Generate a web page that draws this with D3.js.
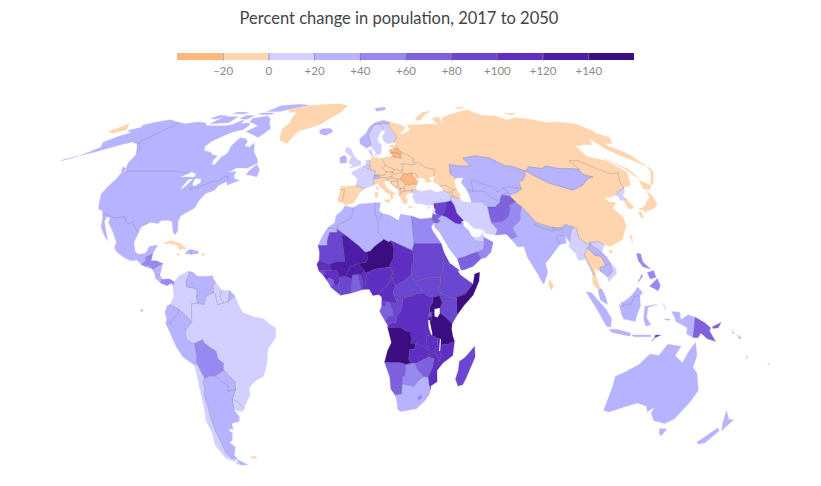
<!DOCTYPE html>
<html>
<head>
<meta charset="utf-8">
<script src="https://cdn.jsdelivr.net/npm/d3@7"></script>
<style>
body { margin: 0; background: #fff; }
svg { display: block; }
.title { font-family: Lato, sans-serif; font-size: 16.5px; fill: #444; }
.legend text { font-family: Lato, sans-serif; font-size: 11.5px; fill: #8a8a8a; }
</style>
</head>
<body>
<svg id="map" width="821" height="486"></svg>
<script>
const titleText = 'Percent change in population, 2017 to 2050';
const legendTicks = [-20, 0, 20, 40, 60, 80, 100, 120, 140];
const legendDomain = [-40, 160];
const binColors = ['#ffb77e', '#ffd5af', '#d3d0ff', '#b7b3ff', '#9889f2', '#7d61de', '#6a46d1', '#5e2fc2', '#4e1da8', '#3b0d80'];

const countries = [
  'Canada', 'USA', 'Mexico', 'Guatemala', 'Belize', 'Honduras', 'El Salvador', 'Nicaragua', 'Costa Rica', 'Panama',
  'Cuba', 'Haiti', 'Dominican Rep.', 'Jamaica', 'Puerto Rico', 'Trinidad', 'Colombia', 'Venezuela', 'Guyana', 'Suriname',
  'French Guiana', 'Ecuador', 'Peru', 'Bolivia', 'Brazil', 'Uruguay', 'Paraguay', 'Argentina', 'Chile', 'Falklands',
  'Greenland', 'Iceland', 'UK', 'Ireland', 'Norway', 'Sweden', 'Finland', 'Denmark', 'Spain', 'Portugal',
  'France', 'Belgium', 'Netherlands', 'Germany', 'Switzerland', 'Italy', 'Austria', 'Czechia', 'Slovakia', 'Hungary',
  'Poland', 'Estonia', 'Latvia', 'Lithuania', 'Belarus', 'Ukraine', 'Moldova', 'Romania', 'Bulgaria', 'Serbia',
  'Croatia', 'Bosnia', 'Slovenia', 'Montenegro', 'Albania', 'Macedonia', 'Greece', 'Turkey', 'Cyprus', 'Georgia',
  'Armenia', 'Azerbaijan', 'Russia', 'Kazakhstan', 'Uzbekistan', 'Turkmenistan', 'Kyrgyzstan', 'Tajikistan', 'Afghanistan', 'Pakistan',
  'India', 'Nepal', 'Bhutan', 'Bangladesh', 'Sri Lanka', 'China', 'Mongolia', 'North Korea', 'South Korea', 'Japan',
  'Myanmar', 'Thailand', 'Laos', 'Vietnam', 'Cambodia', 'Malaysia', 'Indonesia', 'Timor-Leste', 'Philippines', 'Papua New Guinea',
  'Solomon Is.', 'Vanuatu', 'Fiji', 'Australia', 'New Zealand', 'Iran', 'Iraq', 'Syria', 'Lebanon', 'Jordan',
  'Israel', 'Saudi Arabia', 'Yemen', 'Oman', 'UAE', 'Kuwait', 'Morocco', 'Western Sahara', 'Mauritania', 'Senegal',
  'Guinea-Bissau', 'Guinea', 'Sierra Leone', 'Liberia', "Cote d'Ivoire", 'Ghana', 'Togo', 'Benin', 'Burkina Faso', 'Mali',
  'Algeria', 'Tunisia', 'Libya', 'Egypt', 'Niger', 'Nigeria', 'Chad', 'Cameroon', 'CAR', 'Sudan',
  'South Sudan', 'Eritrea', 'Ethiopia', 'Somalia', 'Kenya', 'Uganda', 'Rwanda', 'Burundi', 'Tanzania', 'DR Congo',
  'Congo', 'Gabon', 'Eq. Guinea', 'Angola', 'Zambia', 'Malawi', 'Mozambique', 'Zimbabwe', 'Botswana', 'Namibia',
  'South Africa', 'Lesotho', 'Madagascar'
];
const percentChange = [
  27, 23, 31, 55, 50, 48, 22, 29, 24, 41,
  -8, 24, 23, -2, -14, -5, 15, 28, 6, 12,
  38, 34, 30, 46, 14, 8, 33, 27, 16, -3,
  -2, 22, 14, 21, 28, 18, 5, 9, -4, -12,
  13, 12, 5, -7, 21, -6, -2, -6, -7, -11,
  -15, -12, -23, -24, -13, -18, -16, -21, -19, -16,
  -15, -16, -4, -5, -10, -4, -14, 19, 15, -4,
  -5, -3, -8, 32, 28, 30, 36, 62, 72, 55,
  25, 25, 22, 24, -5, -3, 33, 9, -4, -17,
  16, -3, 30, 15, 33, 35, 24, 110, 45, 70,
  35, 35, 15, 35, 28, 19, 105, 88, 8, 65,
  60, 34, 70, 50, 12, 38, 30, 38, 90, 105,
  90, 105, 70, 85, 95, 75, 85, 105, 125, 125,
  30, 21, 32, 50, 165, 105, 110, 100, 85, 95,
  85, 85, 82, 160, 90, 150, 78, 130, 155, 115,
  95, 70, 85, 145, 115, 105, 110, 65, 50, 70,
  28, 45, 90
];

const outlines = {
  'Canada': [
    [[-141,69.6],[-135,69],[-128,70],[-120,69.5],[-115,68],[-108,68],[-100,68],[-96,68.5],[-94,71.5],[-90,69],[-85,69.5],[-81.5,68.5],[-82,66],[-87,65],[-90,63.5],[-94,61],[-94.5,58.8],[-92.5,57],[-88,56.5],[-85,55.3],[-82,55],[-82,53],[-80.5,51.3],[-79,51.5],[-79,54.5],[-77,56],[-78,59],[-77.5,62.4],[-73,62],[-70,61],[-69.5,59],[-66,58.5],[-64.5,60.3],[-61.5,56.5],[-57,53.5],[-56,52],[-60,50.2],[-66,50.2],[-69,48.5],[-65,49],[-65,47.5],[-64,46],[-61,45.5],[-66,43.6],[-67,45],[-67.8,47],[-70,46.5],[-71.5,45],[-74.8,45],[-76.5,44],[-79,43.3],[-79,42.8],[-83,42],[-82.5,45.3],[-84.5,46.5],[-88.5,48.2],[-92,48.4],[-95,49],[-100,49],[-106,49],[-112,49],[-118,49],[-123,49],[-125,50],[-128,52],[-130,54.5],[-131,56],[-134,58],[-137,59],[-139,60],[-141,60.3],[-141,65]],
    [[-80,73.5],[-72,71.5],[-67,69],[-62,66.5],[-65,62.5],[-72,64],[-78,65],[-74,68],[-85,70],[-89,72]],
    [[-117,73],[-105,73],[-101,69.5],[-115,69]],
    [[-90,76.5],[-78,76.5],[-72,79],[-62,82],[-75,83],[-92,81.5]],
    [[-125,74],[-116,73.5],[-120,71.5],[-125,72]],
    [[-92,75.5],[-80,75.5],[-80,74.5],[-92,74.5]],
    [[-117,76],[-106,76],[-106,74.8],[-117,75]],
    [[-100,73.8],[-93,73.8],[-92,71.5],[-100,72]],
    [[-59,47.7],[-53,46.8],[-53,49.5],[-56,51.5],[-58,49.5]],
    [[-128,50.7],[-125,50],[-123.5,48.5],[-125.5,48.9]]
  ],
  'USA': [
    [[-123,49],[-118,49],[-112,49],[-106,49],[-100,49],[-95,49],[-92,48.4],[-88.5,48.2],[-84.5,46.5],[-82.5,45.3],[-83,42],[-79,42.8],[-79,43.3],[-76.5,44],[-74.8,45],[-71.5,45],[-70,46.5],[-67.8,47],[-67,45],[-70,43.5],[-70.5,41.7],[-74,40.5],[-75.5,37.5],[-76,35],[-78,33.8],[-81,32],[-81.3,30],[-80,26.8],[-80.5,25.2],[-81.8,26],[-82.8,28],[-84,30],[-86,30.4],[-89,30.3],[-90,29.2],[-93.5,29.7],[-97,28],[-97.2,25.9],[-99.5,27.5],[-101.5,29.8],[-103,29],[-104.7,30],[-106.5,31.8],[-108.2,31.4],[-111,31.3],[-114.8,32.5],[-117.1,32.5],[-118.5,34],[-120.6,34.5],[-122.5,37.5],[-124.3,40.4],[-124.5,43],[-124,46.3],[-124.7,48.4]],
    [[-141,69.6],[-141,65],[-141,60.3],[-139,60],[-137,59],[-134,58],[-131,56],[-130,55],[-133,56.5],[-136,58],[-140,59.7],[-146,60.7],[-150,59.5],[-153,58.5],[-158,56.5],[-163,55],[-160,58.5],[-165,60.5],[-164,63],[-161,64.5],[-168,65.6],[-163,67],[-166.5,68.3],[-161,70.3],[-156.5,71.3],[-150,70.5]],
    [[-163.5,54.9],[-166,54],[-168,53.3],[-168,53],[-165.5,53.8]]
  ],
  'Mexico': [[[-117.1,32.5],[-114.8,32.5],[-111,31.3],[-108.2,31.4],[-106.5,31.8],[-104.7,30],[-103,29],[-101.5,29.8],[-99.5,27.5],[-97.2,25.9],[-97.8,22.5],[-96,19],[-94.5,18.2],[-91.5,18.5],[-90.5,21],[-87,21.5],[-88.3,18.4],[-89.2,17.9],[-91,17.2],[-90.5,16],[-92.2,14.5],[-94.5,16.2],[-97,15.9],[-100,17],[-104,19],[-105.5,20.5],[-105.5,22.5],[-109,26.5],[-112.5,29.5],[-113,31.3],[-114.7,31.7],[-114.7,30],[-112,26.5],[-109.5,23],[-112,25],[-115,28],[-116,30.5]]],
  'Guatemala': [[[-92.2,14.5],[-90.5,16],[-91,17.2],[-89.2,17.9],[-88.9,15.9],[-89.3,14.4],[-90.1,13.8]]],
  'Belize': [[[-89.2,17.9],[-88.3,18.4],[-88.3,16.2],[-88.9,15.9]]],
  'Honduras': [[[-89.3,14.4],[-88.9,15.9],[-86,15.9],[-83.2,15],[-85,14],[-87.3,13],[-87.8,13.4]]],
  'El Salvador': [[[-90.1,13.8],[-89.3,14.4],[-87.8,13.4],[-88.5,13.2]]],
  'Nicaragua': [[[-87.3,13],[-85,14],[-83.2,15],[-83.7,11],[-85.7,11.1]]],
  'Costa Rica': [[[-85.7,11.1],[-83.7,11],[-82.6,9.5],[-83,8.3],[-85.6,9.9]]],
  'Panama': [[[-83,8.3],[-82.6,9.5],[-79.5,9.6],[-77.4,8.7],[-77.8,7.5],[-78.5,8.3],[-80.4,7.4],[-81.5,7.8]]],
  'Cuba': [[[-85,21.9],[-82,23.1],[-77,22],[-74.2,20.2],[-77.5,19.9],[-78.5,21.5],[-82,22]]],
  'Haiti': [[[-74.4,18.4],[-73,19.9],[-71.7,19.8],[-71.7,18.2]]],
  'Dominican Rep.': [[[-71.7,19.8],[-69,19.4],[-68.4,18.5],[-71.7,18.2]]],
  'Jamaica': [[[-78.3,18.4],[-76.3,18.2],[-77,17.7]]],
  'Puerto Rico': [[[-67.2,18.5],[-65.6,18.4],[-66,17.9],[-67.2,18]]],
  'Trinidad': [[[-61.8,10.8],[-60.9,10.8],[-61,10.1],[-61.9,10.1]]],
  'Colombia': [[[-77.4,8.7],[-75.5,10.8],[-72,12.2],[-71.3,11.5],[-72.5,9],[-72,7],[-70,6.9],[-67.5,6.2],[-67.8,3.8],[-67.3,1.8],[-69.8,1.7],[-69.9,-0.5],[-70,-4.2],[-72,-2.4],[-75.2,-0.1],[-78.8,1.4],[-77.3,3.9],[-77.8,7.5]]],
  'Venezuela': [[[-72,12.2],[-70,12],[-68,10.6],[-64,10.4],[-62,10.7],[-60,8.5],[-61,7.5],[-60.7,5.2],[-64,4],[-64.5,1.4],[-67.3,1.8],[-67.8,3.8],[-67.5,6.2],[-70,6.9],[-72,7],[-72.5,9],[-71.3,11.5]]],
  'Guyana': [[[-60,8.5],[-57.2,6],[-58,4],[-56.5,1.9],[-59,1.3],[-60,5],[-60.7,5.2],[-61,7.5]]],
  'Suriname': [[[-57.2,6],[-54,5.9],[-54.5,2.3],[-56.5,1.9],[-58,4]]],
  'French Guiana': [[[-54,5.9],[-51.7,4.2],[-54.5,2.3]]],
  'Ecuador': [
    [[-80,1],[-78.8,1.4],[-75.2,-0.1],[-75.5,-1.5],[-78.3,-3.4],[-79,-5],[-80.3,-3.4],[-81,-1]],
    [[-91.5,-0.2],[-90.2,-0.2],[-90.5,-1]]
  ],
  'Peru': [[[-81,-4.5],[-80.3,-3.4],[-79,-5],[-78.3,-3.4],[-75.5,-1.5],[-75.2,-0.1],[-72,-2.4],[-70,-4.2],[-73,-7],[-73,-9.5],[-70.6,-11],[-69.5,-11],[-69,-15],[-69.4,-17.5],[-70.4,-18.3],[-75,-15.5],[-77.5,-12],[-79.5,-7.5]]],
  'Bolivia': [[[-69.5,-11],[-66,-9.8],[-65.3,-11],[-60.5,-13.7],[-60,-16.2],[-57.8,-17.5],[-58,-20],[-62.6,-22],[-65,-22],[-67.2,-22.8],[-68.5,-19.5],[-69.4,-17.5],[-69,-15]]],
  'Brazil': [[[-60.7,5.2],[-60,5],[-59,1.3],[-56.5,1.9],[-54.5,2.3],[-51.7,4.2],[-50,1],[-48.5,-1],[-44,-2.5],[-40,-3],[-37,-5],[-35,-6],[-35,-9],[-38.5,-13],[-39,-17.5],[-41,-22],[-45,-23.7],[-48.5,-26],[-48.8,-28.6],[-52,-32],[-53.4,-33.7],[-55.7,-30.9],[-57.6,-30.2],[-54.6,-26.5],[-54.6,-25.5],[-54.2,-24],[-55.7,-22.4],[-58,-20],[-57.8,-17.5],[-60,-16.2],[-60.5,-13.7],[-65.3,-11],[-66,-9.8],[-69.5,-11],[-70.6,-11],[-73,-9.5],[-73,-7],[-70,-4.2],[-69.9,-0.5],[-69.8,1.7],[-67.3,1.8],[-64.5,1.4],[-64,4]]],
  'Uruguay': [[[-57.6,-30.2],[-55.7,-30.9],[-53.4,-33.7],[-55,-35],[-58.4,-34]]],
  'Paraguay': [[[-58,-20],[-55.7,-22.4],[-54.2,-24],[-54.6,-25.5],[-54.6,-26.5],[-58.6,-27.3],[-57.7,-25.3],[-60,-24],[-62.6,-22]]],
  'Argentina': [
    [[-67.2,-22.8],[-65,-22],[-62.6,-22],[-60,-24],[-57.7,-25.3],[-58.6,-27.3],[-54.6,-26.5],[-57.6,-30.2],[-58.4,-34],[-57,-36.5],[-58,-38.3],[-62,-39],[-62.5,-41],[-65,-41],[-63.8,-42.5],[-65.5,-45],[-67.5,-46],[-65.8,-47.5],[-69,-51],[-68.5,-52.3],[-71.5,-52],[-72.5,-50],[-71.8,-46],[-71.5,-42],[-71,-38],[-70,-33],[-69.8,-29],[-68.5,-26],[-68.5,-24]],
    [[-68.6,-52.7],[-65.2,-54.8],[-68.6,-54.9]]
  ],
  'Chile': [
    [[-69.4,-17.5],[-68.5,-19.5],[-67.2,-22.8],[-68.5,-24],[-68.5,-26],[-69.8,-29],[-70,-33],[-71,-38],[-71.5,-42],[-71.8,-46],[-72.5,-50],[-71.5,-52],[-68.5,-52.3],[-71,-53.5],[-74.5,-52],[-75.5,-47],[-73.5,-42],[-73.7,-38],[-71.6,-32],[-71,-28],[-70.4,-23],[-70.4,-18.3]],
    [[-68.6,-52.7],[-68.6,-54.9],[-71,-54.5],[-70,-53.5]]
  ],
  'Falklands': [[[-61,-51.4],[-58,-51.4],[-58.5,-52.2],[-60.5,-52.2]]],
  'Greenland': [[[-73,78.2],[-60,82],[-32,83.6],[-20,81.8],[-18,76],[-22,72],[-26,68.5],[-40,65],[-43,60],[-49,61.5],[-53,66],[-51,69.5],[-55,72],[-60,76],[-68,76]]],
  'Iceland': [[[-24,65.5],[-22,66.4],[-16,66.5],[-13.5,65],[-18.5,63.4],[-22.5,64]]],
  'UK': [
    [[-5.5,50.1],[1.3,51.2],[1.7,52.8],[0,53.5],[-1.5,55],[-2,57.7],[-4,58.6],[-5.2,58],[-6,56.5],[-3,54.5],[-4.5,53.2],[-5,51.7],[-3,51.4]],
    [[-7.2,55.1],[-5.6,54.7],[-6.2,54.1],[-7.5,54.3]]
  ],
  'Ireland': [[[-10,52],[-6.3,52.2],[-6,53.5],[-6.2,54.1],[-7.5,54.3],[-7.2,55.1],[-10,54.2]]],
  'Norway': [
    [[5,60],[5.3,62],[10,64],[14,67.5],[18,69.5],[25,71],[31,69.8],[29,69],[25.7,69],[20.5,69],[16,67.5],[14,65],[12,63.5],[12.2,60],[11,59],[8,58]],
    [[12,79],[22,80],[24,78],[16,76.7]]
  ],
  'Sweden': [[[11,59],[12.2,60],[12,63.5],[14,65],[16,67.5],[20.5,69],[23.6,67.8],[24,65.8],[21.5,65],[17.5,62],[17.5,60.5],[18.7,59.8],[16.5,57],[14.3,55.5],[12.9,55.5]]],
  'Finland': [[[20.5,69],[25.7,69],[29,69],[29.5,66.5],[31.5,62.9],[27.8,60.5],[23,59.9],[21,61],[21.5,63],[25,65],[24,65.8],[23.6,67.8]]],
  'Denmark': [
    [[8.7,54.9],[8.2,57],[10.6,57.7],[10,55]],
    [[11,55.7],[12.6,56],[12,54.8]]
  ],
  'Spain': [[[-9.2,43.1],[-1.8,43.4],[3.2,42.4],[0.5,40.5],[-0.3,38.8],[-2,36.8],[-5.5,36],[-7.4,37.2],[-7,38.5],[-6.9,41.9],[-8.9,41.9]]],
  'Portugal': [[[-8.9,41.9],[-6.9,41.9],[-7,38.5],[-7.4,37.2],[-9,37],[-9.5,38.8]]],
  'France': [
    [[-1.8,43.4],[3.2,42.4],[7.4,43.7],[7,46],[7.6,47.6],[8.2,49],[6,49.5],[4.2,50],[2.5,51],[-1.6,49.5],[-4.7,48.4],[-1.2,46]],
    [[8.6,42.9],[9.5,42.9],[9.3,41.5]]
  ],
  'Belgium': [[[2.5,51],[4.2,51.4],[6,50.7],[6,49.5],[4.2,50]]],
  'Netherlands': [[[4.2,51.4],[4.9,53.3],[7.1,53.3],[6,50.7]]],
  'Germany': [[[6,50.7],[7.1,53.3],[8.7,54],[8.7,54.9],[11,54.4],[14.2,53.9],[14.7,51],[12.2,50.3],[13.8,48.6],[13,47.5],[10,47.4],[7.6,47.6],[8.2,49],[6,49.5]]],
  'Switzerland': [[[7,46],[7.6,47.6],[10,47.4],[10.4,46.5],[8.5,46]]],
  'Italy': [
    [[7.4,43.7],[8.8,44.4],[10.5,42.9],[13,41.2],[15.7,40],[16,38],[17,39],[16.7,40.2],[18.4,40.2],[16,41.5],[14,42.5],[12.4,44.5],[13.6,45.5],[13.7,45.7],[13.7,46.5],[10.4,46.5],[8.5,46],[7,46]],
    [[12.5,38],[15.6,38.2],[15,36.7]],
    [[8.2,41],[9.7,41],[9.5,39],[8.5,39]]
  ],
  'Austria': [[[10,47.4],[13,47.5],[13.8,48.6],[17,48.7],[16.5,46.9],[13.7,46.5],[10.4,46.5]]],
  'Czechia': [[[12.2,50.3],[14.7,51],[18.8,49.6],[17,48.7],[13.8,48.6]]],
  'Slovakia': [[[17,48.7],[18.8,49.6],[22.5,49.1],[22,48.4],[18,47.8]]],
  'Hungary': [[[16.5,46.9],[17,48.7],[18,47.8],[22,48.4],[22.9,48],[21,46.2],[20.3,46],[18.8,45.9],[16.6,46.4]]],
  'Poland': [[[14.2,53.9],[18.5,54.8],[19.8,54.5],[23,54.4],[24,52],[24,50.6],[22.5,49.1],[18.8,49.6],[14.7,51]]],
  'Estonia': [[[23.5,59.2],[28,59.4],[27.4,57.6],[24.5,58],[23.5,58.7]]],
  'Latvia': [[[21,56.1],[21,57.1],[22.5,57.7],[24.4,57.3],[24.5,58],[27.4,57.6],[28.2,56.1],[26.5,55.7],[24,56.3]]],
  'Lithuania': [[[21,56.1],[24,56.3],[26.5,55.7],[25.8,54.2],[23.5,54],[23,54.4],[21.3,55.2]]],
  'Belarus': [[[23.5,54],[25.8,54.2],[26.5,55.7],[28.2,56.1],[31,55],[32.7,53.4],[31.3,53],[31.5,52],[30.5,51.3],[25,51.9],[24,52]]],
  'Ukraine': [[[24,50.6],[24,52],[25,51.9],[30.5,51.3],[31.5,52],[34,52.3],[35.5,50.4],[40,49.6],[38.2,47.1],[35,46.2],[36.5,45.3],[33.5,44.5],[33,46],[30.8,46.5],[30,46.4],[29,48],[26.6,48.3],[24.8,47.8],[22.9,48],[22,48.4],[22.5,49.1]]],
  'Moldova': [[[26.6,48.3],[29,48],[30,46.4],[28.2,45.5]]],
  'Romania': [[[20.3,46],[21,46.2],[22.9,48],[24.8,47.8],[26.6,48.3],[28.2,45.5],[29.7,45.3],[28.6,43.7],[27,44.1],[25,43.7],[22.9,43.9],[22.7,44.6],[21.4,44.8]]],
  'Bulgaria': [[[22.9,43.9],[25,43.7],[27,44.1],[28.6,43.7],[28,42],[26.3,41.7],[24,41.5],[22.9,41.4],[22.4,42.3]]],
  'Serbia': [[[18.8,45.9],[20.3,46],[21.4,44.8],[22.7,44.6],[22.9,43.9],[22.4,42.3],[20.6,42.3],[19.2,43.5],[19.1,44.9]]],
  'Croatia': [[[13.6,45.5],[16.6,46.4],[18.8,45.9],[19.1,44.9],[16,45.2],[15.8,44.3],[18.5,42.5],[15,44.5]]],
  'Bosnia': [[[16,45.2],[19.1,44.9],[19.2,43.5],[18.5,42.5],[15.8,44.3]]],
  'Slovenia': [[[13.7,45.7],[13.7,46.5],[16.5,46.9],[16.6,46.4],[13.6,45.5]]],
  'Montenegro': [[[18.5,42.5],[19.2,43.5],[20.6,42.3],[19.4,42.2]]],
  'Albania': [[[19.4,42.2],[20.6,42.3],[21,40.9],[20,39.7],[19.4,40.5]]],
  'Macedonia': [[[20.6,42.3],[22.4,42.3],[22.9,41.4],[21,40.9]]],
  'Greece': [
    [[20,39.7],[21,40.9],[22.9,41.4],[24,41.5],[26.3,41.7],[26,40.8],[23.5,40.2],[23,39],[24,38],[23,36.5],[21.7,36.8],[21,38.3]],
    [[23.6,35.6],[26.3,35.3],[24.5,34.9]]
  ],
  'Turkey': [[[26.3,41.7],[28,42],[31,41.2],[35,42],[38,41],[41.5,41.5],[43.5,41],[44.8,39.7],[44.5,37.7],[42.3,37.2],[38,36.8],[36.2,36.7],[36,36],[32.5,36],[30.5,36.5],[27.5,36.7],[26.3,39.5],[27,40.5],[26,40.8]]],
  'Cyprus': [[[32.5,35],[34.5,35.6],[33.5,34.8]]],
  'Georgia': [[[40,43.4],[43,43.5],[46.5,41.8],[45.5,41],[43.5,41],[41.5,41.5]]],
  'Armenia': [[[43.5,41],[45.5,41],[46.5,39],[44.8,39.7]]],
  'Azerbaijan': [[[45.5,41],[46.5,41.8],[48,42],[49.5,40.3],[48.9,38.4],[46.5,39]]],
  'Russia': [
    [[27.8,60.5],[31.5,62.9],[29.5,66.5],[29,69],[31,69.8],[36,69],[41,67.5],[40,66],[35,64.3],[37,64],[40,64.7],[44,66],[44,68.5],[54,68.5],[60,69],[68,68.5],[67,72],[73,73],[73,68.5],[75,72],[80,73.5],[87,75],[100,77],[106,77.5],[113,74],[125,73.5],[130,71],[140,72.5],[150,71.5],[160,69.7],[170,70],[180,69],[180,65],[177,64.5],[179,62.5],[170,60],[164,60],[163,57],[162,55],[157,51],[155.7,56],[157,58],[163,62],[155,59.5],[150,59.5],[142,59],[135,54.7],[141,53],[140,48.5],[135,43.5],[131,42.7],[130.7,42.5],[131,45],[135,48.3],[130.5,48],[127,50],[125,53],[120,53],[117,49.7],[113,50],[107,50],[102,51],[98,50],[92,50.7],[87.8,49.2],[87.3,49.1],[83,51],[80,51],[77,54],[70,55],[61,54],[61,51],[55,51],[50,51.5],[47,48],[49,46.2],[47.7,45],[48,42],[46.5,41.8],[43,43.5],[40,43.4],[37,45],[38.2,47.1],[40,49.6],[35.5,50.4],[34,52.3],[31.5,52],[31.3,53],[32.7,53.4],[31,55],[28.2,56.1],[27.4,57.6],[28,59.4]],
    [[19.8,54.5],[23,54.4],[21.3,55.2]],
    [[142,54],[143.5,50],[142,46],[142,50]],
    [[52,71],[56,71],[68,76.8],[60,76],[54,73]],
    [[95,79],[104,79],[100,80.5]],
    [[137,75.5],[147,75],[140,74]],
    [[156,50.6],[156.6,50.2],[146.3,43.6],[145.8,44.1]],
    [[-180,69],[-175,67.5],[-170,66],[-173,64.3],[-180,65]]
  ],
  'Kazakhstan': [[[47,48],[50,51.5],[55,51],[61,51],[61,54],[70,55],[77,54],[80,51],[83,51],[87.3,49.1],[85,47],[82.5,45.3],[80,45],[80.2,42.2],[74.5,43],[71,42.5],[68,41],[66,43],[61,44.2],[58.5,45.5],[56,45],[56,41.3],[53,42],[51,44.5],[53,46.5],[49,46.2]]],
  'Uzbekistan': [[[56,41.3],[56,45],[58.5,45.5],[61,44.2],[66,43],[68,41],[71,42.5],[73.3,40.8],[69.5,40],[68,38.3],[67.7,37.2],[64.5,38.8],[61.2,41.3]]],
  'Turkmenistan': [[[53,42],[56,41.3],[61.2,41.3],[64.5,38.8],[67.7,37.2],[64.5,35.3],[61,35.3],[59,37.3],[54,37.3],[53.8,39.5]]],
  'Kyrgyzstan': [[[71,42.5],[74.5,43],[80.2,42.2],[76,40.3],[73.3,39.5],[69.5,40],[73.3,40.8]]],
  'Tajikistan': [[[67.7,37.2],[68,38.3],[69.5,40],[73.3,39.5],[75,37.5],[74.8,37.2],[71.5,36.8],[70,37.7]]],
  'Afghanistan': [[[61,35.3],[64.5,35.3],[67.7,37.2],[70,37.7],[71.5,36.8],[74.8,37.2],[71.5,36],[71,34],[69.5,31.8],[66.3,29.9],[61,29.5],[60.8,31.5]]],
  'Pakistan': [[[61,29.5],[66.3,29.9],[69.5,31.8],[71,34],[71.5,36],[74.8,37.2],[77,35.5],[75,32.5],[74.5,30.5],[70,27.8],[71,24.5],[68,23.7],[66.5,25.4],[61.6,25.1],[63,27]]],
  'India': [[[68,23.7],[71,24.5],[70,27.8],[74.5,30.5],[75,32.5],[77,35.5],[79,33],[81,30],[80,28.8],[84,27.4],[88,26.4],[88.2,27.9],[89,26.9],[92,27],[92,27.8],[94,29],[97.3,28],[95,25.5],[93.4,22.5],[92.3,24.8],[89.5,25.3],[88.2,24.5],[88.7,21.7],[86.5,20],[82,16.5],[80,15],[80,12],[78,8.5],[77.5,8],[75.5,11.5],[73,17],[72.7,21],[70,20.8],[69,22.3]]],
  'Nepal': [[[80,28.8],[81,30],[84,28.8],[88.2,27.9],[88,26.4],[84,27.4]]],
  'Bhutan': [[[89,26.9],[88.2,27.9],[89,27.8],[92,27.8],[92,27]]],
  'Bangladesh': [[[88.2,24.5],[89.5,25.3],[92.3,24.8],[91.8,22.2],[90,21.9],[88.7,21.7]]],
  'Sri Lanka': [[[80,9.7],[81.8,7.5],[80.7,6],[79.8,7.5]]],
  'China': [
    [[73.5,39.5],[76,40.3],[80.2,42.2],[80,45],[82.5,45.3],[85,47],[87.3,49.1],[91,46.5],[95,44.3],[105,41.7],[111.5,43.7],[116,46],[119.7,46.7],[115.8,47.8],[117,49.7],[120,53],[125,53],[127,50],[130.5,48],[135,48.3],[131,45],[130.7,42.5],[127.5,41.5],[124.3,40],[121,39],[118,39],[119,37.3],[122.5,37],[119.3,35],[121.9,31.5],[121.5,28.5],[117,23.5],[114,22.3],[110.5,21],[108,21.6],[106.5,22.7],[102,22.5],[101.5,21.3],[98,24],[98.7,27.5],[97.3,28],[94,29],[92,27.8],[89,27.8],[88.2,27.9],[84,28.8],[81,30],[79,33],[77,35.5],[74.8,37.2],[75,37.5],[73.3,39.5]],
    [[108.7,19.3],[110.5,20],[110,18.5]],
    [[121,25],[122,25],[120.8,22]]
  ],
  'Mongolia': [[[87.8,49.2],[92,50.7],[98,50],[102,51],[107,50],[113,50],[117,49.7],[115.8,47.8],[119.7,46.7],[116,46],[111.5,43.7],[105,41.7],[95,44.3],[91,46.5],[87.3,49.1]]],
  'North Korea': [[[124.3,40],[127.5,41.5],[130.7,42.5],[129.7,41],[127.5,39.7],[128.3,38.6],[126.7,37.8],[125,38],[125.3,39.5]]],
  'South Korea': [[[126.7,37.8],[128.3,38.6],[129.4,36],[129,35],[126.5,34.5],[126.5,36.5]]],
  'Japan': [
    [[140.9,41.4],[142,39.5],[140.9,36],[139,35],[136,34],[133,34.3],[131,34.4],[135,35.7],[137,37.3],[139.8,39]],
    [[140,42],[141.5,45.5],[145.3,43.5],[143,42]],
    [[130,33.5],[131.8,33.5],[131,31],[130,31.5]],
    [[132.5,33.7],[134.5,34.2],[134,33.3]]
  ],
  'Myanmar': [[[92.2,21],[93.4,22.5],[95,25.5],[97.3,28],[98.7,27.5],[98,24],[101.5,21.3],[100,20.4],[97.8,18],[98.5,15],[99.5,11],[98.7,11.5],[97.6,16.5],[95.5,16],[94.3,16.2],[94.3,18.5]]],
  'Thailand': [[[97.8,18],[100,20.4],[101,19.5],[102,18],[104.7,17.4],[105.5,14.4],[102.5,13.5],[102.5,12],[101,12.7],[100,13.5],[100,10],[101,7],[102,6.2],[100.7,6.2],[100,6.5],[98.3,8],[98.7,11.5],[99.5,11],[98.5,15]]],
  'Laos': [[[101.5,21.3],[102,22.5],[103,20.8],[104.5,20],[107,17],[107.5,15],[105.5,14.4],[104.7,17.4],[102,18],[101,19.5],[100,20.4]]],
  'Vietnam': [[[102,22.5],[106.5,22.7],[108,21.6],[105.8,19],[107,17],[109.3,13],[109,11.5],[106.7,10],[105,8.7],[104.5,10.4],[106,11],[107.5,12.5],[107.5,15],[107,17],[104.5,20],[103,20.8]]],
  'Cambodia': [[[102.5,13.5],[105.5,14.4],[107.5,15],[107.5,12.5],[106,11],[104.5,10.4],[102.5,12]]],
  'Malaysia': [
    [[100.7,6.2],[102,6.2],[103.4,4],[104.2,1.4],[101.3,2.8],[100.3,5.5]],
    [[109.6,2],[110,1],[112,1.5],[114,1.5],[115.5,4],[117.7,4.2],[119,5.2],[117,7],[114.5,4.5],[111.3,2.5]]
  ],
  'Indonesia': [
    [[109,1.5],[110,1],[112,1.5],[114,1.5],[115.5,4],[117.7,4.2],[118,1],[116.5,-2],[116,-4],[111,-3.2],[110,-1.5]],
    [[95.3,5.5],[97.5,5.2],[103.5,0],[106,-3],[105.8,-5.8],[104,-5.5],[100.5,-1],[98,2]],
    [[105.2,-6.5],[108.5,-6.5],[114.5,-7.7],[114.3,-8.7],[106.5,-7.5]],
    [[115,-8.3],[119,-8.3],[123,-8.3],[123,-8.9],[116,-8.9]],
    [[119.8,0.8],[125,1.5],[121,0.5],[120.7,-2.8],[122.5,-5],[120.5,-5.5],[119.4,-3]],
    [[127.5,1.8],[128.5,-0.5],[127.8,1]],
    [[127.9,-3.2],[130.8,-3.2],[130,-3.7]],
    [[123.6,-10.3],[124.5,-9.2],[125,-9.5],[124,-10.3]],
    [[131,-0.8],[134.5,-1],[135,-3.4],[138,-1.8],[141,-2.6],[141,-9.1],[138,-8],[138,-6],[133,-4],[132.5,-2.8]]
  ],
  'Timor-Leste': [[[124.7,-9.2],[127.2,-8.4],[125,-8.3]]],
  'Philippines': [
    [[120.5,18.5],[122.2,18.4],[121.7,15.5],[124,13],[121,13.8],[120,16]],
    [[122,11.8],[125,12.5],[125,10.2],[122.5,9.6]],
    [[122,7.3],[125.5,9.8],[126.5,7.5],[125.5,5.8],[124,6.5]],
    [[117.2,8.4],[119.5,11.2],[119.5,10.5]]
  ],
  'Papua New Guinea': [
    [[141,-2.6],[145,-4.3],[147.8,-6],[147.5,-7],[150.8,-10.4],[147,-9.5],[144,-7.7],[143,-9.2],[141,-9.1]],
    [[148.5,-5.7],[152,-4.3],[151,-6],[149,-6.2]]
  ],
  'Solomon Is.': [
    [[156.8,-7],[158,-7.6],[157.8,-8]],
    [[159,-8.2],[160.8,-9.2],[160.5,-9.6]],
    [[160.6,-8.3],[161.4,-9.6],[161,-9.5]]
  ],
  'Vanuatu': [[[166.8,-15],[167.6,-16.2],[167,-15.8]]],
  'Fiji': [[[177.5,-17.5],[178.5,-17.6],[178,-18.2]]],
  'Australia': [
    [[113.7,-22],[114.2,-26],[115,-34.3],[118,-35],[124,-33],[129,-31.6],[134,-32.8],[136,-35],[138,-33],[138,-35.5],[140.5,-38],[146.3,-39],[150,-37.3],[153,-31],[153.5,-27],[149,-21],[146,-19],[145.3,-15],[142.5,-10.7],[141,-14],[140.5,-17.5],[136,-15],[137,-12],[131,-11.3],[129,-15],[125,-14.5],[122,-18],[117,-20.7]],
    [[144.7,-40.7],[148.3,-41],[147,-43.5],[145.5,-42.5]]
  ],
  'New Zealand': [
    [[172.8,-34.5],[176,-37.5],[178.5,-37.7],[175.3,-41.5],[174,-39]],
    [[172.8,-40.5],[174.3,-41.7],[170.8,-45.9],[168,-46.6],[166.5,-45.8]]
  ],
  'Iran': [[[44.5,37.7],[44.8,39.7],[46.5,39],[48.9,38.4],[49.5,37.5],[54,37],[54,37.3],[59,37.3],[61,35.3],[60.8,31.5],[61,29.5],[63,27],[61.6,25.1],[57.3,25.7],[56.5,27],[52.5,27.5],[50,30],[48.5,30.3],[46,33],[45.5,35.8]]],
  'Iraq': [[[42.3,37.2],[44.5,37.7],[45.5,35.8],[46,33],[48.5,30.3],[47.7,30],[47,29],[44.7,29.2],[41,31.5],[39,32.2],[41,34.4],[41.5,36.5]]],
  'Syria': [[[36,36],[36.2,36.7],[38,36.8],[42.3,37.2],[41.5,36.5],[41,34.4],[39,32.2],[36.8,32.5],[36,33.4],[35.9,35]]],
  'Lebanon': [[[35.1,33.1],[36,33.4],[36.4,34.5],[35.9,35],[35.5,34]]],
  'Jordan': [[[35.5,32.5],[36.8,32.5],[39,32.2],[37,31],[38,30],[36,29.2],[35,29.5]]],
  'Israel': [[[34.3,31.3],[35.1,33.1],[35.5,32.5],[35,29.5],[34.9,29.5]]],
  'Saudi Arabia': [[[34.9,29.5],[36,29.2],[38,30],[37,31],[39,32.2],[41,31.5],[44.7,29.2],[47,29],[48,28.5],[50.2,26.5],[51,24.5],[52,23],[55,22.7],[55.7,22],[55,20],[52,19],[48.8,18.2],[46,17.3],[43.2,16.7],[42.8,16.4],[40.5,19.5],[38.5,23],[37,26],[35,28]]],
  'Yemen': [[[42.8,16.4],[43.2,16.7],[46,17.3],[48.8,18.2],[52,19],[53,16.7],[49,14],[45,12.8],[43.5,12.7]]],
  'Oman': [[[52,19],[55,20],[55.7,22],[56,24.5],[56.5,24.2],[59.8,22.5],[57.8,19],[55,17],[53,16.7]]],
  'UAE': [[[51,24.5],[54,24.2],[56.4,26],[56,24.5],[55.7,22],[55,22.7],[52,23]]],
  'Kuwait': [[[47,29],[47.7,30],[48.4,29.4],[48,28.5]]],
  'Morocco': [[[-5.9,35.8],[-2,35.1],[-1.7,33],[-3.7,30.7],[-8.7,28.7],[-8.7,27.3],[-13,27.7],[-10,29.5],[-9.7,32],[-6.8,34.2]]],
  'Western Sahara': [[[-8.7,27.3],[-8.7,26],[-12,26],[-13,23],[-13,21.3],[-17,21.3],[-15,25],[-13,27.7]]],
  'Mauritania': [[[-17,21.3],[-13,21.3],[-13,23],[-12,26],[-8.7,26],[-8.7,27.3],[-4.8,25],[-6.6,25],[-5.5,15.5],[-9.4,15.5],[-12.2,14.8],[-16.5,16],[-16.3,19]]],
  'Senegal': [[[-16.5,16],[-12.2,14.8],[-11.4,12.4],[-13.7,12.6],[-16.7,12.4],[-17.5,14.7]]],
  'Guinea-Bissau': [[[-16.7,12.4],[-13.7,12.6],[-13.7,11.7],[-15,11]]],
  'Guinea': [[[-15,11],[-13.7,11.7],[-13.7,12.6],[-11.4,12.4],[-9,12.4],[-8,10.2],[-8,8.5],[-9.5,7.4],[-10.5,8],[-10.7,9.3],[-12.5,9.9],[-13.3,9.1]]],
  'Sierra Leone': [[[-13.3,9.1],[-12.5,9.9],[-10.7,9.3],[-10.5,8],[-11.5,6.9]]],
  'Liberia': [[[-11.5,6.9],[-10.5,8],[-9.5,7.4],[-8,8.5],[-8.5,7],[-7.5,5.9],[-7.5,4.4]]],
  "Cote d'Ivoire": [[[-7.5,4.4],[-7.5,5.9],[-8.5,7],[-8,8.5],[-8,10.2],[-6.2,10.4],[-5.5,10.4],[-2.8,9.7],[-2.9,5.1]]],
  'Ghana': [[[-2.9,5.1],[-2.8,9.7],[-2.8,11],[-0.1,11.1],[0.5,8],[1.2,6.1]]],
  'Togo': [[[1.2,6.1],[0.5,8],[-0.1,11.1],[0.9,11],[1.6,9],[1.6,6.2]]],
  'Benin': [[[1.6,6.2],[1.6,9],[0.9,11],[2.4,12.3],[3.6,11.7],[2.7,8],[2.7,6.3]]],
  'Burkina Faso': [[[-5.5,10.4],[-4.4,12],[-3.8,13.7],[-2,14.2],[0.2,15],[2.2,12.7],[2.4,12.3],[0.9,11],[-0.1,11.1],[-2.8,11],[-2.8,9.7]]],
  'Mali': [[[-12.2,14.8],[-9.4,15.5],[-5.5,15.5],[-6.6,25],[-4.8,25],[1.2,21],[3.2,19.2],[4.2,19],[4.2,16.5],[3.5,15.4],[0.2,15],[-2,14.2],[-3.8,13.7],[-4.4,12],[-5.5,10.4],[-6.2,10.4],[-8,10.2],[-9,12.4],[-11.4,12.4]]],
  'Algeria': [[[-2,35.1],[1,36.5],[8.6,37],[8.3,33],[9.5,30.3],[9.8,26],[11.9,23.5],[7.5,20.9],[5.8,19.4],[4.2,19],[3.2,19.2],[1.2,21],[-4.8,25],[-8.7,27.3],[-8.7,28.7],[-3.7,30.7],[-1.7,33]]],
  'Tunisia': [[[8.6,37],[11,37],[10.2,34],[11.5,33],[10.3,30.5],[9.5,30.3],[8.3,33]]],
  'Libya': [[[11.5,33],[15,32.3],[19,30.3],[20,32.7],[25,32],[25,22],[24,20],[24,19.5],[15,23],[14,22.6],[11.9,23.5],[9.8,26],[9.5,30.3],[10.3,30.5]]],
  'Egypt': [[[25,32],[29,30.9],[32.5,31.2],[34.3,31.3],[34.9,29.5],[33.5,28],[34,26.5],[36.9,22],[31.5,22],[25,22]]],
  'Niger': [[[0.2,15],[3.5,15.4],[4.2,16.5],[4.2,19],[5.8,19.4],[7.5,20.9],[11.9,23.5],[14,22.6],[15,23],[16,20.5],[15.5,16.9],[13.5,14.3],[13.6,13.7],[10,13.3],[7,13],[3.6,11.7],[2.4,12.3],[2.2,12.7]]],
  'Nigeria': [[[2.7,6.3],[2.7,8],[3.6,11.7],[7,13],[10,13.3],[13.6,13.7],[14.5,12],[13.3,9],[12,7.5],[9.5,5.8],[8.5,4.6],[6,4.3],[4.5,6.3]]],
  'Chad': [[[15,23],[24,19.5],[24,15.7],[22.5,13.8],[22.2,11],[19,9],[15.5,7.5],[14,9.5],[15,10.5],[14.5,12],[13.6,13.7],[13.5,14.3],[15.5,16.9],[16,20.5]]],
  'Cameroon': [[[8.5,4.6],[9.5,5.8],[12,7.5],[13.3,9],[14.5,12],[15,10.5],[14,9.5],[15.5,7.5],[14.5,5],[16,2.2],[13,2.2],[9.8,2.3],[9.7,3.8]]],
  'CAR': [[[14.5,5],[15.5,7.5],[19,9],[22.2,11],[23.5,9],[27.4,5.1],[24,4.8],[22,4.1],[18.6,3.5],[16.5,3.5],[16,2.2]]],
  'Sudan': [[[24,19.5],[24,20],[25,22],[31.5,22],[36.9,22],[37.5,18.7],[36.4,15],[36,12.7],[34.5,10.8],[33,10],[30,10],[27,9.5],[24,9],[23.5,9],[22.2,11],[22.5,13.8],[24,15.7]]],
  'South Sudan': [[[23.5,9],[24,9],[27,9.5],[30,10],[33,10],[34.5,10.8],[34.5,8],[33.2,6],[35,4.6],[33.9,4.2],[31,3.7],[28.5,4.3],[27.4,5.1]]],
  'Eritrea': [[[36.4,15],[37.5,18.7],[39.2,15],[43,12.5],[42,12.5],[40,14.5]]],
  'Ethiopia': [[[36.4,15],[40,14.5],[42,12.5],[42.9,11],[47.9,8],[44.9,4.9],[42,4],[41,3.9],[39.5,3.4],[35.9,4.6],[35,4.6],[33.2,6],[34.5,8],[34.5,10.8],[36,12.7]]],
  'Somalia': [[[48,8],[49,11.3],[51.2,11.9],[50.5,9],[48,4.5],[44,1],[41.5,-1.7],[41,-0.9],[41,2.8],[41,3.9],[42,4],[44.9,4.9],[47.9,8]]],
  'Kenya': [[[33.9,4.2],[35,4.6],[35.9,4.6],[39.5,3.4],[41,3.9],[41,2.8],[41,-0.9],[41.5,-1.7],[39.2,-4.7],[37.7,-3.5],[33.9,-1],[34,0.3],[35,2]]],
  'Uganda': [[[31,3.7],[33.9,4.2],[35,2],[34,0.3],[33.9,-1],[30.5,-1],[29.6,-1.3],[30,1],[31.2,2.2]]],
  'Rwanda': [[[29.6,-1.3],[30.5,-1],[30.8,-2.3],[29,-2.7]]],
  'Burundi': [[[29,-2.7],[30.8,-2.3],[30,-4.4],[29.3,-4.4]]],
  'Tanzania': [[[30.5,-1],[33.9,-1],[37.7,-3.5],[39.2,-4.7],[39,-6.5],[39.5,-8.5],[40.4,-10.4],[38,-11.3],[34.9,-11.6],[34.3,-9.5],[32.9,-9.4],[31.2,-8.6],[30.7,-8.2],[29.5,-6],[29.3,-4.4],[30,-4.4],[30.8,-2.3]]],
  'DR Congo': [[[12.2,-6],[12.2,-5.1],[13,-4.6],[15.7,-4.2],[16.2,-2.2],[17.8,-0.5],[18.6,3.5],[22,4.1],[24,4.8],[27.4,5.1],[28.5,4.3],[31,3.7],[31.2,2.2],[30,1],[29.6,-1.3],[29,-2.7],[29.3,-4.4],[29.5,-6],[30.7,-8.2],[28.9,-8.5],[28.5,-9.2],[28.6,-12],[29.8,-12.2],[29.8,-13.4],[27.5,-12],[25.5,-11.5],[24,-11],[22,-11],[22,-9.5],[21.8,-7.3],[19.5,-7],[17.5,-5.8],[16.5,-5.9]]],
  'Congo': [[[11.2,-4],[12.2,-5.1],[13,-4.6],[15.7,-4.2],[16.2,-2.2],[17.8,-0.5],[18.6,3.5],[16.5,3.5],[16,2.2],[13,2.2],[13.3,1],[14.4,-0.7],[14.5,-2],[12.5,-2.3]]],
  'Gabon': [[[9.8,1],[9.8,2.3],[13,2.2],[13.3,1],[14.4,-0.7],[14.5,-2],[12.5,-2.3],[11.2,-4],[8.8,-0.7]]],
  'Eq. Guinea': [[[9.8,2.3],[9.8,1],[11.3,1],[11.3,2.2]]],
  'Angola': [[[12.2,-6],[16.5,-5.9],[17.5,-5.8],[19.5,-7],[21.8,-7.3],[22,-9.5],[22,-11],[24,-11],[24,-13],[22,-13],[22,-16.2],[23.4,-17.6],[21,-18],[18.5,-17.4],[14,-17.4],[11.8,-17.3],[12.5,-13.5],[13.8,-10.8],[13,-8.5]]],
  'Zambia': [[[22,-13],[24,-13],[24,-11],[25.5,-11.5],[27.5,-12],[29.8,-13.4],[29.8,-12.2],[28.6,-12],[28.5,-9.2],[28.9,-8.5],[30.7,-8.2],[31.2,-8.6],[32.9,-9.4],[33.5,-11],[33,-14],[30.2,-14.8],[30.4,-15.6],[28,-16.5],[25.3,-17.8],[23.4,-17.6],[22,-16.2]]],
  'Malawi': [[[34.3,-9.5],[34.9,-11.6],[34.5,-12.5],[35,-14],[35.8,-15],[35.2,-17],[34.3,-15.5],[33,-14],[33.5,-11],[32.9,-9.4]]],
  'Mozambique': [[[40.4,-10.4],[40.7,-15],[37,-17.5],[35,-20],[35.5,-24],[32.8,-25.5],[32.9,-26.8],[32,-25],[31.3,-22.4],[32.8,-19],[32.8,-16],[30.4,-15.6],[30.2,-14.8],[33,-14],[34.3,-15.5],[35.2,-17],[35.8,-15],[35,-14],[34.5,-12.5],[34.9,-11.6],[38,-11.3]]],
  'Zimbabwe': [[[25.3,-17.8],[28,-16.5],[30.4,-15.6],[32.8,-16],[32.8,-19],[31.3,-22.4],[29.4,-22.2],[26,-19.5]]],
  'Botswana': [[[21,-18.3],[23.4,-17.6],[25.3,-17.8],[26,-19.5],[29.4,-22.2],[27,-23.7],[25.5,-25.6],[23,-25.3],[20,-24.8],[20,-22],[21,-22]]],
  'Namibia': [[[11.8,-17.3],[14,-17.4],[18.5,-17.4],[21,-18],[23.4,-17.6],[21,-18.3],[21,-22],[20,-22],[20,-24.8],[20,-28.4],[17,-28.7],[15,-26.5],[14.5,-22.5]]],
  'South Africa': [[[17,-28.7],[20,-28.4],[20,-24.8],[23,-25.3],[25.5,-25.6],[27,-23.7],[29.4,-22.2],[31.3,-22.4],[32,-25],[32.9,-26.8],[32.5,-28.5],[30.5,-31],[27,-33.8],[25,-34],[20,-34.8],[18.3,-34],[18,-31.5]]],
  'Lesotho': [[[27.2,-29.5],[28.8,-28.7],[29.4,-29.7],[28,-30.6]]],
  'Madagascar': [[[49.3,-12],[50.4,-15.5],[48,-23],[47,-25],[45,-25.5],[43.5,-23],[44.3,-20],[44,-17],[46,-15.8],[48,-13.5]]]
};

// big lakes and inland seas, painted white over the land
const lakes = [
  [[-92,46.7],[-88,48.7],[-85,47.8],[-85,46.6],[-88,46.8]],
  [[-87.8,42],[-87,45.7],[-85,46],[-86.3,43]],
  [[-84,46],[-81,46],[-80,44.5],[-82,43.2],[-83.5,44]],
  [[31.8,0],[34,0.3],[34,-1.5],[33,-2.7],[31.8,-2.3]],
  [[29.2,-3.5],[29.7,-3.5],[31,-8],[30.5,-8.4],[29.4,-6]],
  [[34.2,-9.7],[34.6,-9.7],[35,-13.5],[34.5,-13.5]]
];

// lat (deg) -> correction in pixels. The reference squeezes and leans the north
// a bit more than plain Equal Earth does, so the projection carries that.
const correctionLats = [-90, -55, -35, -20, -10, 10, 25, 40, 45, 49, 55, 60, 65, 70, 85, 90];
const squeezeValues = [1, 1, 0.985, 1, 1.01, 1.015, 1, 0.99, 0.98, 0.968, 0.91, 0.86, 0.8, 0.756, 0.6, 0.6];
const leanValues = [0, 1, 6, 4, 0, 0, 5, 8, 8, 10, 18, 26, 31, 33, 25, 25];
const dropValues = [-3, -3, -4, -1, 0, 1, 5, 8, 8, 8, 7, 6, 4, 3, 0, 0];

const mapScale = 157;
const centerLon = 23;

const squeeze = d3.scaleLinear().domain(correctionLats).range(squeezeValues);
const lean = d3.scaleLinear().domain(correctionLats).range(leanValues);
const drop = d3.scaleLinear().domain(correctionLats).range(dropValues);

function leanedEqualEarth(lambda, phi) {
    const deg = phi * 180 / Math.PI;
    const p = d3.geoEqualEarthRaw(lambda - centerLon * Math.PI / 180, phi);
    return [p[0] * squeeze(deg) - lean(deg) / mapScale, p[1] - drop(deg) / mapScale];
}

// d3 recentres on raw(0,0), so translate is where lon 0 on the equator lands
const projection = d3.geoProjection(leanedEqualEarth)
    .scale(mapScale)
    .translate([358.5, 309]);
const path = d3.geoPath(projection);

const color = d3.scaleThreshold().domain(legendTicks).range(binColors);
const svg = d3.select('#map');

// rings come in either winding, d3 wants the small side filled
function polygon(ring) {
    const closed = ring.concat([ring[0]]);
    const geom = { type: 'Polygon', coordinates: [closed] };
    if (d3.geoArea(geom) > 2 * Math.PI) geom.coordinates = [closed.slice().reverse()];
    return geom;
}

function countryFeature(name, i) {
    return {
        type: 'Feature',
        properties: { name: name, change: percentChange[i] },
        geometry: { type: 'GeometryCollection', geometries: outlines[name].map(polygon) }
    };
}

// a segment that two rings share is a land border
function sharedBorders() {
    const seen = new Map();
    countries.forEach(function(name) {
        outlines[name].forEach(function(ring) {
            ring.forEach(function(a, i) {
                const b = ring[(i + 1) % ring.length];
                const key = [String(a), String(b)].sort().join('|');
                if (!seen.has(key)) seen.set(key, { line: [a, b], count: 0 });
                seen.get(key).count += 1;
            });
        });
    });
    const lines = [];
    seen.forEach(function(s) { if (s.count > 1) lines.push(s.line); });
    return { type: 'MultiLineString', coordinates: lines };
}

function drawMap() {
    svg.append('g').selectAll('path')
        .data(countries.map(countryFeature))
        .join('path')
        .attr('d', path)
        .attr('fill', function(d) { return color(d.properties.change); })
        .attr('stroke', function(d) { return color(d.properties.change); })
        .attr('stroke-width', 0.3);

    svg.append('path')
        .datum(sharedBorders())
        .attr('d', path)
        .attr('fill', 'none')
        .attr('stroke', '#5a5a6a')
        .attr('stroke-opacity', 0.55)
        .attr('stroke-width', 0.5);

    svg.append('g').selectAll('path')
        .data(lakes.map(polygon))
        .join('path')
        .attr('d', path)
        .attr('fill', '#fff');
}

function drawLegend() {
    const x = d3.scaleLinear().domain(legendDomain).range([177, 634]);
    const edges = [legendDomain[0]].concat(legendTicks);
    const legend = svg.append('g').attr('class', 'legend');

    legend.selectAll('rect')
        .data(edges)
        .join('rect')
        .attr('x', function(d) { return x(d); })
        .attr('y', 53)
        .attr('width', function(d, i) { return x(i + 1 < edges.length ? edges[i + 1] : legendDomain[1]) - x(d); })
        .attr('height', 7)
        .attr('fill', function(d) { return color(d); });

    const axis = d3.axisBottom(x)
        .tickValues(legendTicks)
        .tickSize(8)
        .tickPadding(6)
        .tickFormat(function(d) { return d > 0 ? '+' + d : d < 0 ? '\u2013' + Math.abs(d) : '0'; });

    const g = legend.append('g').attr('transform', 'translate(0,53)').call(axis);
    g.select('.domain').remove();
    g.selectAll('line').attr('stroke', '#777').attr('stroke-opacity', 0.6);
    g.selectAll('text').attr('fill', null);
}

svg.append('text')
    .attr('class', 'title')
    .attr('x', 399)
    .attr('y', 24)
    .attr('text-anchor', 'middle')
    .text(titleText);

drawMap();
drawLegend();
</script>
</body>
</html>
